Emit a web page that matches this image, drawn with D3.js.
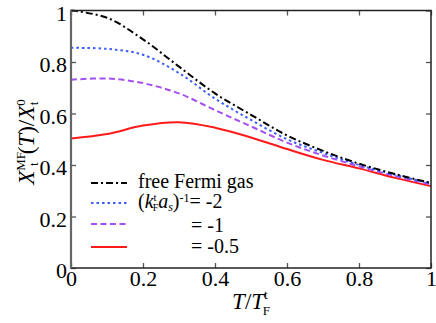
<!DOCTYPE html>
<html><head><meta charset="utf-8">
<script src="https://cdn.jsdelivr.net/npm/d3@7"></script>
</head><body style="margin:0;font-family:'Liberation Serif','Tinos','Times New Roman','FreeSerif'">
<svg id="c" width="436" height="323"></svg>
<script>
const tValues = [0, 0.1, 0.2, 0.3, 0.4, 0.5, 0.6, 0.7, 0.8, 0.9, 1.0];
const freeFermi = [1.0, 0.972, 0.888, 0.782, 0.678, 0.595, 0.515, 0.455, 0.405, 0.365, 0.33];
const inv_m2 = [0.855, 0.851, 0.828, 0.757, 0.658, 0.575, 0.5, 0.447, 0.4, 0.362, 0.328];
const inv_m1 = [0.731, 0.736, 0.718, 0.678, 0.613, 0.55, 0.487, 0.437, 0.395, 0.357, 0.325];
const inv_m05 = [0.503, 0.52, 0.553, 0.566, 0.545, 0.507, 0.462, 0.42, 0.387, 0.35, 0.318];
const xTicks = [0, 0.2, 0.4, 0.6, 0.8, 1];
const yTicks = [0, 0.2, 0.4, 0.6, 0.8, 1];
const xTickLabels = ["0", "0.2", "0.4", "0.6", "0.8", "1"];
const yTickLabels = ["0", "0.2", "0.4", "0.6", "0.8", "1"];

const series = [
  {name: "free", values: freeFermi, color: "#000000", dash: "7,3,2,3"},
  {name: "m2", values: inv_m2, color: "#3a5cff", dash: "2.5,3"},
  {name: "m1", values: inv_m1, color: "#a34ff2", dash: "6,3.5"},
  {name: "m05", values: inv_m05, color: "#ff1a1a", dash: null}
];

const svg = d3.select("#c");
function T_(sel) { return sel.style("font-family", '"Tinos"'); }
const L = 71, R = 431, T = 10.5, B = 268;
const x = d3.scaleLinear().domain([0, 1]).range([L, R]);
const y = d3.scaleLinear().domain([0, 1]).range([B, T]);

const line = d3.line().x((d, i) => x(tValues[i])).y(d => y(d)).curve(d3.curveCatmullRom.alpha(0.5));
series.slice().reverse().forEach(s => {
  svg.append("path").attr("d", line(s.values)).attr("fill", "none")
    .attr("stroke", s.color).attr("stroke-width", 2)
    .attr("stroke-dasharray", s.dash);
});

// axes (ticks inward)
const tl = 5;
const xb = svg.append("g").attr("transform", `translate(0,${B})`)
  .call(d3.axisBottom(x).tickValues(xTicks).tickSize(-tl).tickFormat((d, i) => xTickLabels[i]).tickPadding(2));
const xt = svg.append("g").attr("transform", `translate(0,${T})`)
  .call(d3.axisTop(x).tickValues(xTicks).tickSize(-tl).tickFormat(""));
const yl = svg.append("g").attr("transform", `translate(${L},0)`)
  .call(d3.axisLeft(y).tickValues(yTicks).tickSize(-tl).tickFormat((d, i) => yTickLabels[i]).tickPadding(4));
const yr = svg.append("g").attr("transform", `translate(${R},0)`)
  .call(d3.axisRight(y).tickValues(yTicks).tickSize(-tl).tickFormat(""));
[xb, xt, yl, yr].forEach(g => {
  g.attr("font-family", null).attr("font-size", null);
  g.select(".domain").remove();
  g.selectAll("line").attr("stroke", "#555").attr("stroke-width", 1.3);
  T_(g.selectAll("text").attr("fill", "#000").style("font-size", "22px"));
});
yl.selectAll("text").attr("dy", "0.45em");
// frame
svg.append("rect").attr("x", L).attr("y", T).attr("width", R - L).attr("height", B - T)
  .attr("fill", "none").attr("stroke", "#222").attr("stroke-width", 1.5);
svg.append("line").attr("x1", L).attr("x2", L).attr("y1", T).attr("y2", B).attr("stroke", "#666").attr("stroke-width", 2.2);

// legend
const legY = [183, 203, 224, 247];
series.forEach((s, i) => {
  svg.append("line").attr("x1", 91).attr("x2", 127).attr("y1", legY[i]).attr("y2", legY[i])
    .attr("stroke", s.color).attr("stroke-width", 2).attr("stroke-dasharray", s.dash);
});
const fs = "20px";
T_(svg.append("text").attr("x", 138).attr("y", 188)).style("font-size", fs).text("free Fermi gas");
const t2 = T_(svg.append("text").attr("x", 138).attr("y", 208)).style("font-size", fs);
t2.append("tspan").text("(");
t2.append("tspan").style("font-style", "italic").text("k");
t2.append("tspan").attr("dy", -7).style("font-size", "11px").text("t");
t2.append("tspan").attr("dx", -4).attr("dy", 10).style("font-size", "10px").text("F");
t2.append("tspan").attr("dy", -3).style("font-style", "italic").text("a");
t2.append("tspan").attr("dy", 3).style("font-size", "12px").style("font-style", "italic").text("s");
t2.append("tspan").attr("dy", -3).text(")");
t2.append("tspan").attr("dy", -6).style("font-size", "12px").text("-1");
t2.append("tspan").attr("dy", 6).text("= -2");
T_(svg.append("text").attr("x", 191).attr("y", 232)).style("font-size", fs).text("= -1");
T_(svg.append("text").attr("x", 191).attr("y", 253)).style("font-size", fs).text("= -0.5");

// x title
const xtTitle = T_(svg.append("text").attr("x", 251).attr("y", 309).attr("text-anchor", "middle")).style("font-size", "23px");
xtTitle.append("tspan").style("font-style", "italic").text("T");
xtTitle.append("tspan").text("/");
xtTitle.append("tspan").style("font-style", "italic").text("T");
xtTitle.append("tspan").attr("dy", -10).style("font-size", "13px").text("t");
xtTitle.append("tspan").attr("dx", -5).attr("dy", 16).style("font-size", "13px").text("F");

// y title (rotated)
const yt = T_(svg.append("text").attr("transform", "translate(34,142) rotate(-90)").attr("text-anchor", "middle")).style("font-size", "23px");
yt.append("tspan").style("font-style", "italic").text("X");
yt.append("tspan").attr("dy", -9).style("font-size", "13px").text("MF");
yt.append("tspan").attr("dx", -14).attr("dy", 13).style("font-size", "13px").text("t");
yt.append("tspan").attr("dx", 8).attr("dy", -4).text("(");
yt.append("tspan").style("font-style", "italic").text("T");
yt.append("tspan").text(")/");
yt.append("tspan").style("font-style", "italic").text("X");
yt.append("tspan").attr("dy", -9).style("font-size", "13px").text("0");
yt.append("tspan").attr("dx", -6).attr("dy", 13).style("font-size", "13px").text("t");
</script></body></html>
